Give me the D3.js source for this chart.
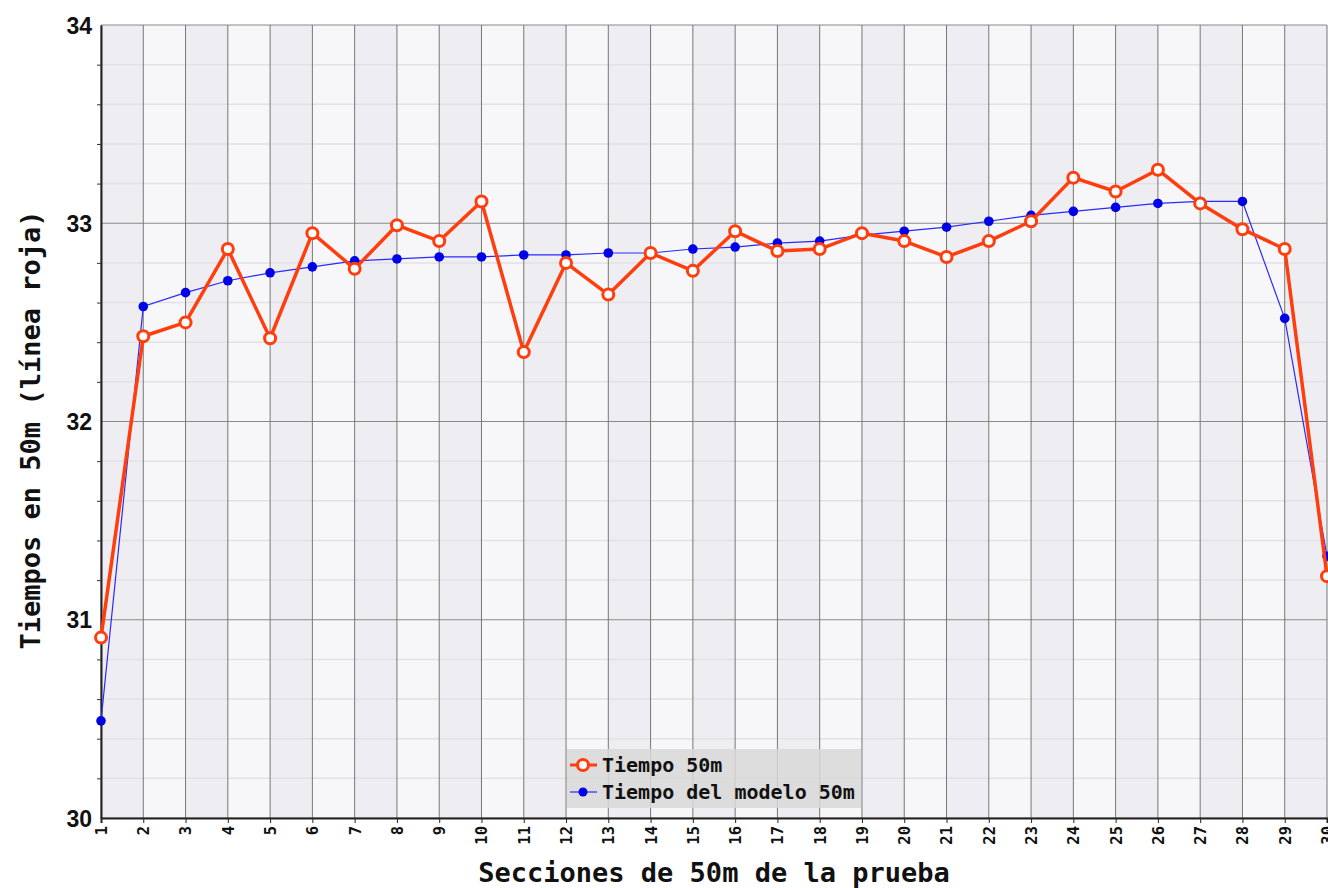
<!DOCTYPE html>
<html><head><meta charset="utf-8">
<script src="https://cdn.jsdelivr.net/npm/d3@7"></script>
<style>
html,body{margin:0;padding:0;background:#fff;overflow:hidden}
svg{display:block}
</style></head>
<body>
<svg id="chart" width="1328" height="888"></svg>
<script>
const secciones = d3.range(1, 31);
const tiempo50m = [30.91,32.43,32.50,32.87,32.42,32.95,32.77,32.99,32.91,33.11,32.35,32.80,32.64,32.85,32.76,32.96,32.86,32.87,32.95,32.91,32.83,32.91,33.01,33.23,33.16,33.27,33.10,32.97,32.87,31.22];
const tiempoModelo = [30.49,32.58,32.65,32.71,32.75,32.78,32.81,32.82,32.83,32.83,32.84,32.84,32.85,32.85,32.87,32.88,32.90,32.91,32.94,32.96,32.98,33.01,33.04,33.06,33.08,33.10,33.11,33.11,32.52,31.32];
const yTicks = [30,31,32,33,34];
const seriesNames = ["Tiempo 50m","Tiempo del modelo 50m"];
const xTitle = "Secciones de 50m de la prueba";
const yTitle = "Tiempos en 50m (línea roja)";

const svg = d3.select("#chart");
const L = 101, R = 1327, T = 25, B = 818;
const x = d3.scaleLinear().domain([1,30]).range([L,R]);
const y = d3.scaleLinear().domain([30,34]).range([B,T]);
const mono = "'DejaVu Sans Mono', monospace";

// background stripes
const g = svg.append("g");
g.selectAll("rect.stripe").data(d3.range(1,30)).enter().append("rect")
  .attr("x", d=>x(d)).attr("y", T).attr("width", d=>x(d+1)-x(d)).attr("height", B-T)
  .attr("fill", (d,i)=> i%2===0 ? "#eeeef2" : "#f7f7f9");
// minor horizontal grid
const minor = d3.range(30, 34.001, 0.2).filter(v=>Math.abs(v-Math.round(v))>1e-6);
g.selectAll("line.minor").data(minor).enter().append("line")
  .attr("x1", L).attr("x2", R).attr("y1", d=>y(d)).attr("y2", d=>y(d))
  .attr("stroke", "#e2e2e6").attr("stroke-width", 1.5);
// major horizontal grid
g.selectAll("line.major").data(yTicks).enter().append("line")
  .attr("x1", L).attr("x2", R).attr("y1", d=>y(d)).attr("y2", d=>y(d))
  .attr("stroke", "#8a8a8a").attr("stroke-width", 1.2);
// vertical grid
g.selectAll("line.vg").data(secciones).enter().append("line")
  .attr("x1", d=>x(d)).attr("x2", d=>x(d)).attr("y1", T).attr("y2", B)
  .attr("stroke", "#777").attr("stroke-width", 1);

// axes
const yAxis = d3.axisLeft(y).tickValues(yTicks).tickSize(0).tickPadding(9).tickFormat(d3.format("d"));
const ya = svg.append("g").attr("transform", `translate(${L},0)`).call(yAxis);
ya.select(".domain").attr("stroke", "#222").attr("stroke-width", 2);
ya.selectAll("text").attr("font-family", "'Liberation Sans', Arial, sans-serif").attr("font-weight", "bold").attr("font-size", 23).attr("fill", "#111").attr("dy", "0.35em");
const yMinor = d3.axisLeft(y).tickValues(minor).tickSize(4).tickFormat("");
const ym = svg.append("g").attr("transform", `translate(${L},0)`).call(yMinor);
ym.select(".domain").remove();
ym.selectAll("line").attr("stroke", "#333");

const xAxis = d3.axisBottom(x).tickValues(secciones).tickSize(5).tickFormat(d3.format("d"));
const xa = svg.append("g").attr("transform", `translate(0,${B})`).call(xAxis);
xa.select(".domain").attr("stroke", "#222").attr("stroke-width", 2);
xa.selectAll("line").attr("stroke", "#222");
xa.selectAll("text").attr("font-family", mono).attr("font-weight", "bold").attr("font-size", 15.5).attr("fill", "#111")
  .attr("transform", "rotate(-90)").attr("text-anchor", "end").attr("x", -8).attr("y", 0).attr("dy", "0.35em");

// titles
svg.append("text").attr("x", 714).attr("y", 882).attr("text-anchor", "middle")
  .attr("font-family", mono).attr("font-weight", "bold").attr("font-size", 27).attr("fill", "#111").text(xTitle);
svg.append("text").attr("transform", `translate(40,430) rotate(-90)`).attr("text-anchor", "middle")
  .attr("font-family", mono).attr("font-weight", "bold").attr("font-size", 27).attr("fill", "#111").text(yTitle);

// lines
const line = d3.line().x((d,i)=>x(secciones[i])).y(d=>y(d));
svg.append("path").datum(tiempoModelo).attr("d", line).attr("fill", "none").attr("stroke", "#2a2aff").attr("stroke-width", 1.2);
svg.selectAll("circle.m").data(tiempoModelo).enter().append("circle")
  .attr("cx", (d,i)=>x(secciones[i])).attr("cy", d=>y(d)).attr("r", 4.8).attr("fill", "#0000e6");
svg.append("path").datum(tiempo50m).attr("d", line).attr("fill", "none").attr("stroke", "#ff3d0d").attr("stroke-width", 3.5).attr("stroke-linejoin", "round");
svg.selectAll("circle.t").data(tiempo50m).enter().append("circle")
  .attr("cx", (d,i)=>x(secciones[i])).attr("cy", d=>y(d)).attr("r", 5.5).attr("fill", "#fff").attr("stroke", "#ff3d0d").attr("stroke-width", 3);

// legend
const lg = svg.append("g").attr("transform", "translate(567,749)");
lg.append("rect").attr("width", 294).attr("height", 59).attr("fill", "#d8d8d8").attr("opacity", 0.85);
lg.append("line").attr("x1", 3).attr("x2", 30).attr("y1", 16).attr("y2", 16).attr("stroke", "#ff3d0d").attr("stroke-width", 3);
lg.append("circle").attr("cx", 16).attr("cy", 16).attr("r", 5.5).attr("fill", "#fff").attr("stroke", "#ff3d0d").attr("stroke-width", 3);
lg.append("line").attr("x1", 3).attr("x2", 30).attr("y1", 43).attr("y2", 43).attr("stroke", "#2a2aff").attr("stroke-width", 1.2);
lg.append("circle").attr("cx", 16).attr("cy", 43).attr("r", 4.5).attr("fill", "#0000e6");
lg.selectAll("text.l").data(seriesNames).enter().append("text")
  .attr("x", 35).attr("y", (d,i)=>23+i*27)
  .attr("font-family", mono).attr("font-weight", "bold").attr("font-size", 20).attr("fill", "#111").text(d=>d);
</script>
</body></html>
